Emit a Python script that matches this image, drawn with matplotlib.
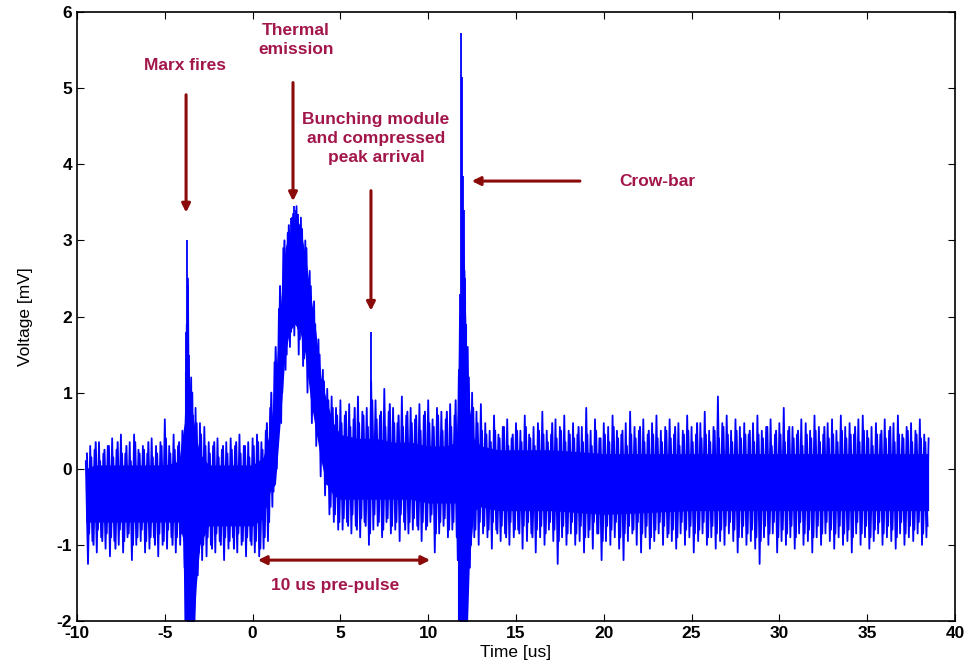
import numpy as np
import matplotlib.pyplot as plt

plt.rcParams['font.family'] = ['Liberation Sans', 'DejaVu Sans']
plt.rcParams['axes.unicode_minus'] = False

# solid band of the trace (time [us], top, bottom [mV])
core_t = [-9.5, -9.0, -8.0, -7.0, -6.0, -5.0, -4.2, -3.9, -3.75, -3.6, -3.4, -3.2, -3.0,
          -2.5, -2.0, -1.0, 0.0, 0.6, 1.0, 1.3, 1.6, 1.85, 2.1, 2.4, 2.7, 3.0, 3.3, 3.6,
          3.9, 4.2, 4.6, 5.0, 6.0, 7.0, 8.0, 9.0, 10.0, 11.0, 11.6, 11.8, 12.0, 12.2,
          12.35, 12.6, 13.0, 14.0, 17.0, 20.0, 25.0, 30.0, 35.0, 38.5]
core_hi = [0.0, 0.05, 0.05, 0.05, 0.05, 0.05, 0.1, 0.6, 1.6, 1.2, 0.7, 0.4, 0.2,
           0.05, 0.05, 0.05, 0.05, 0.15, 0.5, 1.15, 2.2, 2.9, 3.1, 3.3, 3.2, 2.8, 2.3, 1.8,
           1.2, 0.9, 0.6, 0.45, 0.4, 0.4, 0.35, 0.35, 0.3, 0.3, 0.35, 1.5, 3.0, 1.5,
           0.8, 0.4, 0.3, 0.25, 0.25, 0.2, 0.2, 0.2, 0.2, 0.2]
core_lo = [-0.7, -0.7, -0.7, -0.7, -0.7, -0.7, -0.7, -1.0, -2.3, -2.3, -2.3, -1.5, -1.0,
           -0.75, -0.75, -0.75, -0.75, -0.65, -0.3, -0.2, 0.7, 1.5, 1.8, 1.9, 1.8, 1.5, 0.9, 0.5,
           0.1, -0.2, -0.35, -0.4, -0.4, -0.4, -0.4, -0.4, -0.45, -0.45, -0.45, -2.3, -2.3, -2.3,
           -1.2, -0.55, -0.5, -0.55, -0.55, -0.6, -0.55, -0.55, -0.55, -0.55]

# trace read every 0.25 us, two interleaved passes
# pass 1: upper tips from -9.5 us, lower tips from -9.375 us
# pass 2: upper tips from -9.4375 us, lower tips from -9.3125 us
t_start = -9.5
t_step = 0.25
upper_tips = [0.1, 0.3, 0.25, 0.35, 0.2, 0.3, 0.4, 0.25, 0.45, 0.2, 0.35, 0.45, 0.25, 0.3, 0.2,
              0.4, 0.3, 0.35, 0.65, 0.3, 0.45, 0.3,
              0.5, 1.9, 1.2, 0.8, 0.6, 0.55, 0.35, 0.3, 0.4, 0.25, 0.35, 0.4, 0.3, 0.45, 0.3,
              0.35, 0.4, 0.45, 0.35, 0.5,
              0.8, 1.4, 2.1, 2.9, 3.1, 3.3, 3.45, 3.3, 3.0, 2.6, 2.2, 1.7, 1.3, 1.05, 0.95, 0.8,
              0.9, 0.7, 0.85, 0.65, 0.95, 0.75, 0.8, 1.15, 0.9, 0.7, 1.05, 0.75, 0.8, 0.6, 0.95,
              0.7, 0.8, 0.65, 0.85, 0.7, 0.9, 0.65, 0.8, 0.75, 0.65, 0.85, 0.7,
              1.3, 3.0, 1.6, 1.0, 0.75, 0.85,
              0.6, 0.5, 0.7, 0.45, 0.55, 0.65, 0.4, 0.6, 0.5, 0.7, 0.45, 0.55, 0.6, 0.75, 0.5,
              0.45, 0.65, 0.55, 0.7, 0.5,
              0.6, 0.45, 0.55, 0.8, 0.5, 0.65, 0.4, 0.6, 0.55, 0.7, 0.5, 0.45, 0.6, 0.75, 0.55,
              0.5, 0.65, 0.45, 0.6, 0.7,
              0.5, 0.55, 0.65, 0.45, 0.6, 0.5, 0.7, 0.55, 0.45, 0.6, 0.75, 0.5, 0.55, 0.95, 0.6,
              0.7, 0.5, 0.65, 0.55, 0.6,
              0.45, 0.6, 0.7, 0.5, 0.55, 0.65, 0.45, 0.6, 0.8, 0.5, 0.55, 0.45, 0.65, 0.6, 0.5,
              0.7, 0.55, 0.45, 0.6, 0.65,
              0.5, 0.7, 0.55, 0.6, 0.45, 0.65, 0.7, 0.5, 0.55, 0.6, 0.45, 0.65, 0.5, 0.6, 0.7,
              0.45, 0.55, 0.6, 0.5, 0.65,
              0.45, 0.4]
lower_tips = [-1.25, -0.95, -1.1, -0.9, -1.05, -1.15, -0.95, -1.0, -1.1, -0.9, -1.2, -1.0, -0.95,
              -1.1, -1.05, -0.9, -1.15, -1.0, -1.05, -0.9, -1.1, -1.0,
              -1.3, -2.3, -2.3, -1.4, -1.2, -1.15, -1.0, -1.1, -0.95, -1.2, -1.05, -0.9, -1.1,
              -1.0, -1.15, -0.95, -1.1, -1.15, -1.05, -0.95,
              -0.5, 0.0, 0.6, 1.3, 1.6, 1.75, 1.5, 1.35, 1.0, 0.6, 0.3, -0.1, -0.35, -0.6, -0.7, -0.8,
              -0.8, -0.7, -0.85, -0.75, -0.9, -0.7, -1.0, -0.8, -0.75, -0.9, -0.7, -0.85, -0.8,
              -0.95, -0.7, -0.85, -0.8, -0.75, -0.95, -0.8, -0.7, -1.1, -0.85, -0.75, -0.9, -0.8, -0.9,
              -2.3, -2.3, -1.3, -0.9, -1.0, -0.85,
              -0.9, -1.05, -0.8, -0.95, -0.85, -1.0, -0.9, -0.8, -1.05, -0.95, -0.85, -1.1, -0.9,
              -1.0, -0.8, -0.95, -1.25, -0.9, -1.0, -0.85,
              -1.0, -0.95, -1.1, -0.9, -1.05, -0.85, -1.2, -0.95, -1.0, -0.9, -1.05, -1.2, -0.95,
              -0.85, -1.0, -1.1, -0.9, -1.05, -0.95, -0.85,
              -1.0, -0.9, -0.95, -1.05, -0.85, -1.0, -0.9, -1.1, -0.95, -0.85, -1.0, -0.9, -1.05,
              -0.95, -1.0, -0.85, -0.95, -1.1, -0.9, -1.0,
              -0.95, -1.05, -1.25, -0.9, -1.0, -0.85, -1.1, -0.95, -1.0, -0.9, -1.05, -0.85, -1.0,
              -0.95, -1.1, -0.9, -1.0, -0.85, -0.95, -1.05,
              -0.9, -1.0, -0.95, -1.1, -0.85, -1.0, -0.9, -1.05, -0.95, -0.85, -1.0, -0.9, -0.95,
              -1.05, -0.85, -1.0, -0.9, -0.95, -0.85, -1.0,
              -0.9]
upper_tips2 = [0.2, 0.15, 0.35, 0.1, 0.25, 0.3, 0.15, 0.35, 0.2, 0.3, 0.1, 0.35, 0.2, 0.25, 0.35,
               0.15, 0.2, 0.3, 0.4, 0.2, 0.25, 0.35,
               0.4, 2.5, 1.0, 0.6, 0.45, 0.3, 0.2, 0.35, 0.15, 0.3, 0.2, 0.25, 0.35, 0.2, 0.3,
               0.15, 0.3, 0.35, 0.25, 0.6,
               1.0, 1.6, 2.4, 3.0, 3.2, 3.35, 3.3, 3.15, 2.9, 2.4, 1.9, 1.5, 1.15, 0.9, 0.8, 0.7,
               0.6, 0.75, 0.55, 0.8, 0.6, 0.7, 0.55, 0.9, 0.65, 0.75, 0.55, 0.85, 0.6, 0.7, 0.55,
               0.75, 0.6, 0.7, 0.5, 0.75, 0.6, 0.55, 0.7, 0.5, 0.75, 0.55, 0.9,
               2.0, 2.6, 1.2, 0.8, 0.6, 0.5,
               0.45, 0.35, 0.5, 0.4, 0.55, 0.3, 0.45, 0.5, 0.35, 0.55, 0.4, 0.3, 0.5, 0.45, 0.35,
               0.6, 0.4, 0.5, 0.35, 0.45,
               0.4, 0.55, 0.35, 0.45, 0.3, 0.5, 0.4, 0.45, 0.35, 0.55, 0.4, 0.5, 0.3, 0.45, 0.4,
               0.55, 0.35, 0.5, 0.45, 0.4,
               0.35, 0.5, 0.4, 0.55, 0.3, 0.45, 0.5, 0.35, 0.6, 0.4, 0.45, 0.35, 0.5, 0.4, 0.55,
               0.45, 0.35, 0.5, 0.4, 0.45,
               0.5, 0.35, 0.45, 0.4, 0.55, 0.3, 0.5, 0.45, 0.35, 0.55, 0.4, 0.5, 0.3, 0.45, 0.4,
               0.5, 0.35, 0.55, 0.4, 0.45,
               0.35, 0.5, 0.4, 0.45, 0.55, 0.35, 0.5, 0.4, 0.3, 0.45, 0.5, 0.4, 0.55, 0.35, 0.45,
               0.4, 0.5, 0.35, 0.45, 0.4,
               0.35]
lower_tips2 = [-0.85, -1.0, -0.8, -0.95, -0.85, -0.9, -1.05, -0.8, -0.95, -0.85, -1.0, -0.9, -0.8,
               -0.95, -0.9, -1.0, -0.85, -0.95, -0.8, -1.0, -0.9, -0.85,
               -2.3, -2.3, -2.0, -1.1, -1.0, -0.9, -1.05, -0.85, -1.0, -0.9, -0.95, -1.05, -0.85,
               -0.95, -0.9, -1.0, -0.95, -1.05, -0.9, -0.7,
               -0.3, 0.3, 1.0, 1.5, 1.8, 1.9, 1.7, 1.45, 1.2, 0.85, 0.45, 0.1, -0.2, -0.5, -0.6, -0.7,
               -0.65, -0.75, -0.6, -0.8, -0.65, -0.75, -0.85, -0.6, -0.7, -0.8, -0.65, -0.75, -0.7,
               -0.6, -0.8, -0.7, -0.65, -0.8, -0.7, -0.75, -0.6, -0.85, -0.7, -0.65, -0.8, -0.7, -1.2,
               -2.3, -2.3, -1.0, -0.8, -0.7, -0.75,
               -0.8, -0.7, -0.85, -0.75, -0.9, -0.7, -0.8, -0.85, -0.75, -0.7, -0.9, -0.8, -0.75,
               -0.85, -0.7, -0.8, -0.95, -0.75, -0.85, -0.7,
               -0.85, -0.75, -0.9, -0.8, -0.7, -0.85, -0.95, -0.75, -0.8, -0.7, -0.9, -0.85, -0.75,
               -0.8, -0.7, -0.85, -0.75, -0.9, -0.8, -0.7,
               -0.75, -0.85, -0.8, -0.9, -0.7, -0.8, -0.75, -0.85, -0.8, -0.7, -0.9, -0.75, -0.85,
               -0.8, -0.75, -0.7, -0.8, -0.9, -0.75, -0.85,
               -0.8, -0.9, -0.95, -0.75, -0.85, -0.7, -0.9, -0.8, -0.85, -0.75, -0.9, -0.7, -0.85,
               -0.8, -0.9, -0.75, -0.85, -0.7, -0.8, -0.85,
               -0.75, -0.85, -0.8, -0.9, -0.7, -0.85, -0.75, -0.9, -0.8, -0.7, -0.85, -0.75, -0.8,
               -0.9, -0.7, -0.85, -0.75, -0.8, -0.7, -0.85,
               -0.75]

# narrow tall spikes (Marx, thermal top, bunching, crow-bar)
peak_t = [-3.78, -3.72, -3.66, -3.6, 2.2, 2.35, 2.45, 2.6, 6.74,
          11.82, 11.87, 11.93, 11.98, 12.03, 12.08, 12.13]
peak_v = [1.8, 3.0, 2.4, 1.5, 3.3, 3.45, 3.4, 3.35, 1.8,
          2.3, 5.72, 5.15, 3.85, 3.4, 2.5, 1.9]
# negative excursions clipped at the axis bottom
dip_t = [-3.8, -3.7, -3.6, -3.5, -3.4, 11.75, 11.8, 11.85, 11.9, 11.95, 12.0, 12.05, 12.1, 12.15, 12.2]
dip_v = [-2.3, -2.3, -2.3, -2.3, -2.3, -2.3, -2.3, -2.3, -2.3, -2.3, -2.3, -2.3, -2.3, -2.3, -2.3]

red_txt = '#a3164b'
red_arr = '#8b0a0a'


def zigzag(start, ups, downs):
    tu = start + t_step * np.arange(len(ups))
    td = start + t_step / 2 + t_step * np.arange(len(downs))
    n = len(ups) + len(downs)
    t, v = np.empty(n), np.empty(n)
    t[0::2], t[1::2] = tu, td
    v[0::2], v[1::2] = ups, downs
    return t, v


tr1_t, tr1_v = zigzag(t_start, upper_tips, lower_tips)
tr2_t, tr2_v = zigzag(t_start + t_step / 4, upper_tips2, lower_tips2)

fig = plt.figure(figsize=(9.69, 6.71), dpi=100)
ax = fig.add_axes([0.0795, 0.0745, 0.906, 0.9075])

ax.fill_between(core_t, core_lo, core_hi, color='blue', lw=0)
ax.plot(tr2_t, tr2_v, color='blue', lw=1.4)
ax.plot(tr1_t, tr1_v, color='blue', lw=1.3)
ax.vlines(peak_t, np.interp(peak_t, core_t, core_lo), peak_v, color='blue', lw=1.3)
ax.vlines(dip_t, dip_v, np.interp(dip_t, core_t, core_hi), color='blue', lw=1.5)

ax.set_xlim(-10, 40)
ax.set_ylim(-2, 6)
ax.set_xticks(np.arange(-10, 41, 5))
ax.set_yticks(np.arange(-2, 7, 1))
ax.tick_params(direction='in', top=True, right=True, length=5, labelsize=12.5)
for lab in ax.get_xticklabels() + ax.get_yticklabels():
    lab.set_fontweight('bold')
for s in ax.spines.values():
    s.set_linewidth(1.2)
ax.set_xlabel('Time [us]', fontsize=12.5, labelpad=3)
ax.set_ylabel('Voltage [mV]', fontsize=12.5, labelpad=17)

arr = dict(arrowstyle='-|>,head_width=0.25,head_length=0.5', color=red_arr, lw=2.2)
tkw = dict(color=red_txt, fontsize=12.5, fontweight='bold', ha='center', va='center')

ax.annotate('', xy=(-3.79, 3.33), xytext=(-3.79, 4.95), arrowprops=arr)
ax.text(-3.85, 5.30, 'Marx fires', **tkw)

ax.annotate('', xy=(2.30, 3.48), xytext=(2.30, 5.11), arrowprops=arr)
ax.text(2.47, 5.63, 'Thermal\nemission', linespacing=1.3, **tkw)

ax.annotate('', xy=(6.74, 2.04), xytext=(6.74, 3.69), arrowprops=arr)
ax.text(7.03, 4.34, 'Bunching module\nand compressed\npeak arrival', linespacing=1.3, **tkw)

ax.annotate('', xy=(12.32, 3.78), xytext=(18.8, 3.78), arrowprops=arr)
ax.text(20.9, 3.78, 'Crow-bar', color=red_txt, fontsize=12.5, fontweight='bold',
        ha='left', va='center')

ax.annotate('', xy=(0.14, -1.2), xytext=(10.27, -1.2),
            arrowprops=dict(arrowstyle='<|-|>,head_width=0.25,head_length=0.5',
                            color=red_arr, lw=2.2))
ax.text(4.69, -1.54, '10 us pre-pulse', **tkw)

fig.savefig('out.png', dpi=100)
